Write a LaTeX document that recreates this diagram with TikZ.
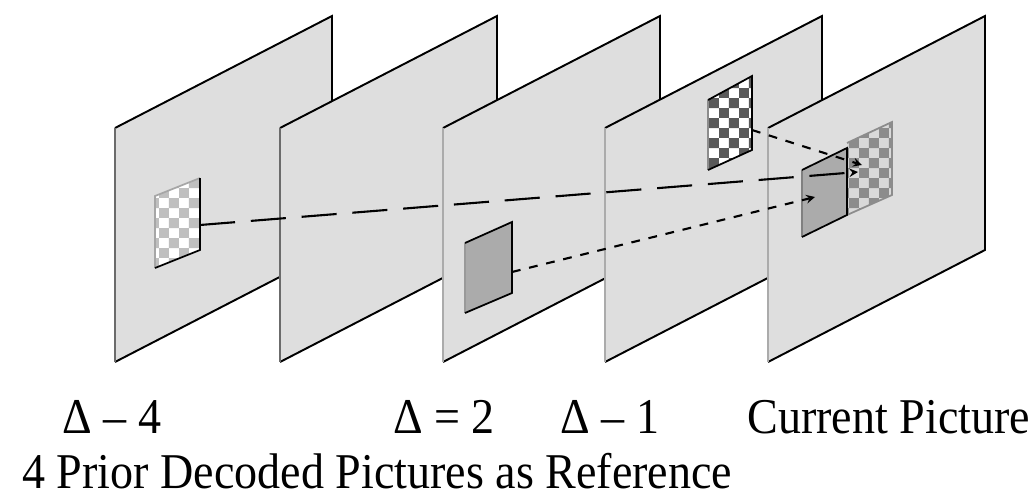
\documentclass[tikz,border=0pt]{standalone}
\usepackage{fontspec}
\setmainfont{Liberation Serif}
\newfontfamily\lblfont[FakeStretch=0.92]{Liberation Serif}
\usetikzlibrary{patterns}

\begin{document}
\begin{tikzpicture}[
    x=0.02cm, y=-0.02cm,
    frame/.style={fill=black!13},
    rim/.style={draw=black, line width=1.1pt},
    lightchk/.style={fill=white, postaction={pattern=checkerboard, pattern color=black!25}},
    darkchk/.style={fill=white, postaction={pattern=checkerboard, pattern color=black!65}},
    midchk/.style={fill=black!15, postaction={pattern=checkerboard, pattern color=black!45}},
    solidblk/.style={fill=black!33},
    arrow/.style={->, >=stealth, line width=1.2pt},
    lbl/.style={anchor=base west, inner sep=0pt, font=\lblfont\fontsize{28.5}{32}\selectfont}
]
\useasboundingbox (0,0) rectangle (1036,497);

% Frames: Delta=4 ... current picture
\foreach \px/\ec in {115/black!58, 280/black!58, 443/black!33, 605/black!33, 768/black!33} {
    \fill[frame] (\px,362) -- (\px,128) -- ++(217,-112) -- ++(0,234) -- cycle;
    \draw[rim] (\px,128) -- ++(217,-112) -- ++(0,234) -- (\px,362);
    \draw[line width=1.3pt, \ec] (\px,362) -- (\px,128);
}

% Block in Delta=4
\path[lightchk] (155,268) -- (155,196) -- (200,178) -- (200,250) -- cycle;
\draw[black!35, line width=1pt] (155,268) -- (155,196) -- (200,178);
\draw[black, line width=1pt] (200,178) -- (200,250) -- (155,268);

% Block in Delta=2
\fill[solidblk] (465,313) -- (465,243) -- (512,222) -- (512,293) -- cycle;
\draw[black!40, line width=1pt] (465,313) -- (465,243);
\draw[black, line width=1pt] (465,243) -- (512,222) -- (512,293) -- (465,313);

% Block in Delta=1
\path[darkchk] (708,170) -- (708,100) -- (752,76) -- (752,150) -- cycle;
\draw[black!45, line width=1pt] (708,170) -- (708,100);
\draw[black, line width=1pt] (708,100) -- (752,76) -- (752,150) -- (708,170);

% Blocks in current picture
\path[midchk] (847,215) -- (847,143) -- (892,122) -- (892,195) -- cycle;
\draw[black!45, line width=1pt] (847,143) -- (892,122) -- (892,195) -- (847,215);
\fill[solidblk] (802,237) -- (802,170) -- (847,148) -- (847,215) -- cycle;
\draw[black!50, line width=1pt] (802,237) -- (802,170);
\draw[black, line width=1pt] (802,170) -- (847,148) -- (847,215) -- (802,237);

% Ends of the motion vectors
\coordinate (r4) at (200,225);
\coordinate (r2) at (512,272);
\coordinate (r1) at (752,130);
\coordinate (c4) at (858,172);
\coordinate (c2) at (815,197);
\coordinate (c1) at (862,165);

\draw[arrow, dash pattern=on 20pt off 9pt] (r4) -- (c4);
\draw[arrow, dash pattern=on 5pt off 5pt] (r2) -- (c2);
\draw[arrow, dash pattern=on 5pt off 5pt] (r1) -- (c1);

% Labels
\node[lbl] (d4) at (62,433) {Δ – 4};
\node[lbl] (d2) at (393,433) {Δ = 2};
\node[lbl] (d1) at (560,433) {Δ – 1};
\node[lbl] (cur) at (747,433) {Current Picture};
\node[lbl] (cap) at (22,488) {4 Prior Decoded Pictures as Reference};

\end{tikzpicture}
\end{document}
